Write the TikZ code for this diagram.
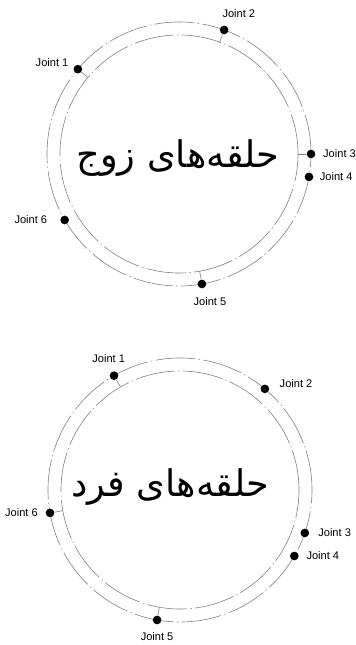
\documentclass[tikz,border=0pt]{standalone}
\usepackage{fontspec}
\setmainfont{Liberation Sans}
\newfontfamily\arabicfont[Script=Arabic]{DejaVu Sans}
\TeXXeTstate=1
\usetikzlibrary{positioning}

\begin{document}
\begin{tikzpicture}[x=0.75pt, y=0.75pt,
    % estilos dos aneis e das juntas
    ringLine/.style={draw=black!50, line width=0.45pt, dash pattern=on 30pt off 2.5pt on 1pt off 2.5pt},
    jointDot/.style={circle, fill=black, inner sep=0pt, minimum size=6.5pt},
    jointLabel/.style={inner sep=0.5pt, font=\fontsize{8.3}{9}\selectfont},
    tickLine/.style={draw=black!50, line width=0.45pt},
    ringTitle/.style={inner sep=0pt, font=\arabicfont\fontsize{27.5}{30}\selectfont}
]
\useasboundingbox (0,0) rectangle (356,645);

% ==========================
% CENTROS E RAIOS
% ==========================
\def\RO{132}
\def\RI{119}
\coordinate (cE) at (179,491);
\coordinate (cO) at (180,155);

% ==========================
% ANEL PAR (zoj)
% ==========================
\draw[ringLine] (cE) circle[radius=\RO];
\draw[ringLine] (cE) circle[radius=\RI];
\foreach \n/\a in {1/140,2/70,3/0,4/-10,5/-80,6/210} {
    \node[jointDot] (e\n) at ([shift={(\a:\RO)}]cE) {};
    \coordinate (e\n i) at ([shift={(\a:\RI)}]cE);
}
\foreach \n in {1,2,3,5} { \draw[tickLine] (e\n) -- (e\n i); }

\node[jointLabel, left=3pt of e1, yshift=5pt] (e1l) {Joint 1};
\node[jointLabel, above=5pt of e2, xshift=11pt] (e2l) {Joint 2};
\node[jointLabel, right=5pt of e3] (e3l) {Joint 3};
\node[jointLabel, right=4pt of e4] (e4l) {Joint 4};
\node[jointLabel, below=6pt of e5, xshift=6pt] (e5l) {Joint 5};
\node[jointLabel, left=9pt of e6] (e6l) {Joint 6};

\node[ringTitle] (tE) at (178,487) {\beginR حلقه‌های زوج\endR};

% ==========================
% ANEL IMPAR (fard)
% ==========================
\draw[ringLine] (cO) circle[radius=\RO];
\draw[ringLine] (cO) circle[radius=\RI];
\foreach \n/\a in {1/120,2/50,3/-19,4/-30,5/-100,6/190} {
    \node[jointDot] (o\n) at ([shift={(\a:\RO)}]cO) {};
    \coordinate (o\n i) at ([shift={(\a:\RI)}]cO);
}
\foreach \n in {1,5,6} { \draw[tickLine] (o\n) -- (o\n i); }

\node[jointLabel, above=6pt of o1, xshift=-4pt] (o1l) {Joint 1};
\node[jointLabel, right=7pt of o2, yshift=4pt] (o2l) {Joint 2};
\node[jointLabel, right=6pt of o3] (o3l) {Joint 3};
\node[jointLabel, right=5pt of o4] (o4l) {Joint 4};
\node[jointLabel, below=5pt of o5] (o5l) {Joint 5};
\node[jointLabel, left=5pt of o6] (o6l) {Joint 6};

\node[ringTitle] (tO) at (170,158) {\beginR حلقه‌های فرد\endR};

\end{tikzpicture}
\end{document}
